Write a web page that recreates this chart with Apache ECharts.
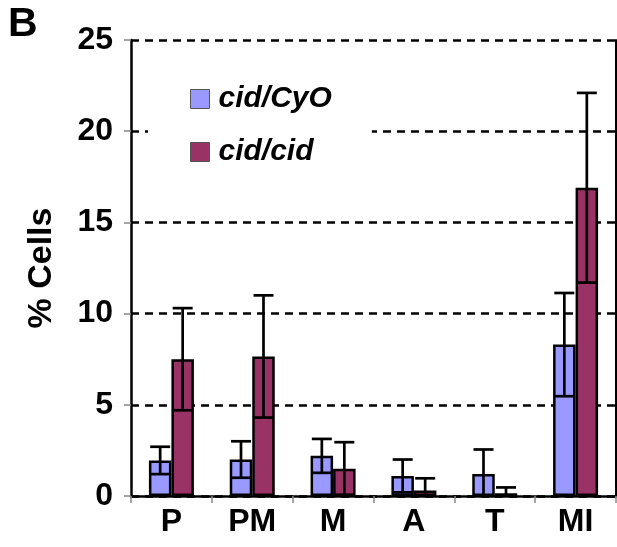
<!DOCTYPE html>
<html>
<head>
<meta charset="utf-8">
<script src="https://cdn.jsdelivr.net/npm/echarts@6/dist/echarts.min.js"></script>
<style>html,body{margin:0;padding:0;background:#fff;}#chart{width:617px;height:547px;}</style>
</head>
<body>
<div id="chart"></div>
<script>
const categories = ['P', 'PM', 'M', 'A', 'T', 'MI'];
const seriesNames = ['cid/CyO', 'cid/cid'];
const cyoValues = [1.95, 2.0, 2.2, 1.1, 1.2, 8.3];
const cyoErrors = [0.75, 1.0, 0.93, 0.9, 1.35, 2.83];
const cidValues = [7.5, 7.65, 1.5, 0.3, 0.15, 16.9];
const cidErrors = [2.8, 3.35, 1.45, 0.67, 0.32, 5.2];
const yTicks = [0, 5, 10, 15, 20, 25];

const FONT = "'Liberation Sans', Arial, Helvetica, sans-serif";
const BAR_W = 22.5;
const CAP = 20;

function errorSeries(values, errors, offset) {
  return {
    type: 'custom',
    z: 10,
    silent: true,
    data: values.map((v, i) => [i, v, errors[i]]),
    renderItem: function (params, api) {
      const i = api.value(0), v = api.value(1), e = api.value(2);
      const top = api.coord([i, v + e]);
      const loVal = v - e;
      const lo = api.coord([i, Math.max(0, loVal)]);
      const x = top[0] + offset;
      const style = { stroke: '#000', lineWidth: 2.7 };
      const children = [
        { type: 'line', shape: { x1: x, y1: top[1], x2: x, y2: lo[1] }, style: style },
        { type: 'line', shape: { x1: x - CAP / 2, y1: top[1], x2: x + CAP / 2, y2: top[1] }, style: style }
      ];
      if (loVal > 0.05) {
        children.push({ type: 'line', shape: { x1: x - CAP / 2, y1: lo[1], x2: x + CAP / 2, y2: lo[1] }, style: style });
      }
      return { type: 'group', children: children };
    }
  };
}

const chart = echarts.init(document.getElementById('chart'), null, { renderer: 'canvas' });
chart.setOption({
  animation: false,
  backgroundColor: '#fff',
  textStyle: { fontFamily: FONT },
  graphic: [{
    type: 'text', left: 8, top: 4,
    style: { text: 'B', font: 'bold 41px ' + FONT, fill: '#000' }
  }],
  legend: {
    orient: 'vertical',
    left: 148, top: 62,
    padding: [22, 40, 22, 42],
    backgroundColor: '#fff',
    icon: 'rect',
    itemWidth: 19, itemHeight: 19,
    itemGap: 23,
    data: seriesNames,
    itemStyle: { borderColor: '#555', borderWidth: 1 },
    textStyle: { fontFamily: FONT, fontSize: 30, fontWeight: 'bold', fontStyle: 'italic', color: '#000', lineHeight: 30, padding: [0, 0, 0, 4] }
  },
  grid: { left: 131, right: 1, top: 40, bottom: 51, containLabel: false },
  xAxis: {
    type: 'category',
    data: categories,
    axisLine: { lineStyle: { color: '#000', width: 2.5 } },
    axisTick: { show: true, length: 7, interval: 0, lineStyle: { color: '#888', width: 1.5 } },
    axisLabel: { fontFamily: FONT, fontSize: 32, fontWeight: 'bold', color: '#000', margin: 10, interval: 0 },
    splitLine: { show: false }
  },
  yAxis: [{
    type: 'value',
    min: yTicks[0], max: yTicks[yTicks.length - 1], interval: 5,
    name: '% Cells',
    nameLocation: 'middle',
    nameGap: 72,
    nameTextStyle: { fontFamily: FONT, fontSize: 34, fontWeight: 'bold', color: '#000' },
    axisLine: { show: true, lineStyle: { color: '#000', width: 2.5 } },
    axisTick: { show: true, length: 7, lineStyle: { color: '#888', width: 1.5 } },
    axisLabel: { fontFamily: FONT, fontSize: 32, fontWeight: 'bold', color: '#000', margin: 18 },
    splitLine: { show: true, lineStyle: { color: '#000', width: 2.5, type: [8, 6] } }
  }, {
    type: 'value',
    position: 'right',
    min: yTicks[0], max: yTicks[yTicks.length - 1], interval: 5,
    axisLine: { show: true, lineStyle: { color: '#000', width: 2 } },
    axisTick: { show: false },
    axisLabel: { show: false },
    splitLine: { show: false }
  }],
  series: [{
    name: seriesNames[0],
    type: 'bar',
    data: cyoValues,
    barWidth: BAR_W,
    barGap: '0%',
    itemStyle: { color: '#9999FF', borderColor: '#000', borderWidth: 2.5 }
  }, {
    name: seriesNames[1],
    type: 'bar',
    data: cidValues,
    barWidth: BAR_W,
    barGap: '0%',
    itemStyle: { color: '#993366', borderColor: '#000', borderWidth: 2.5 }
  },
  errorSeries(cyoValues, cyoErrors, -BAR_W / 2),
  errorSeries(cidValues, cidErrors, BAR_W / 2)
  ]
});
</script>
</body>
</html>
